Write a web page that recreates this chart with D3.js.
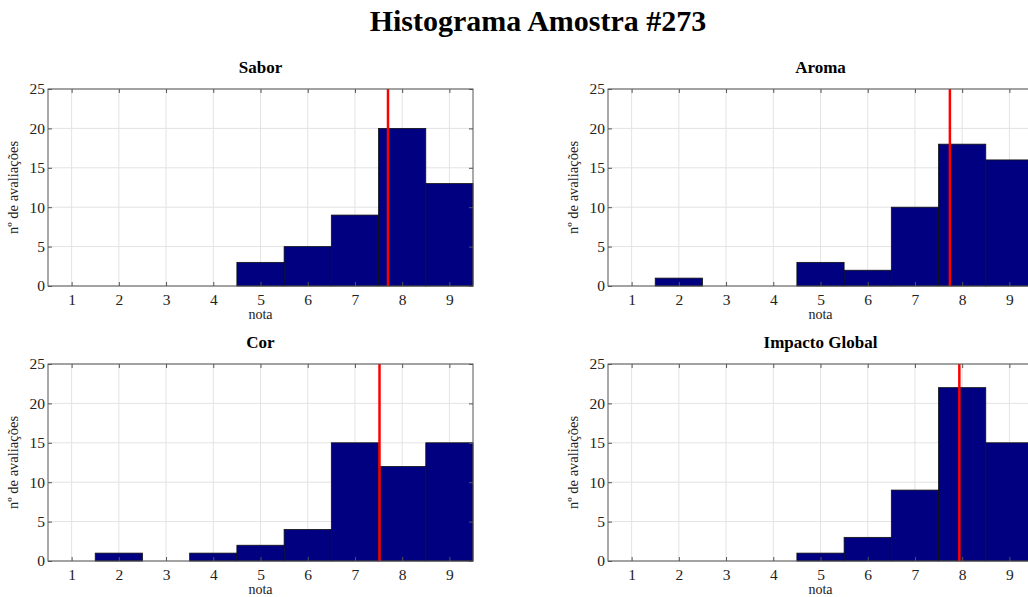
<!DOCTYPE html>
<html>
<head>
<meta charset="utf-8">
<script src="https://cdn.jsdelivr.net/npm/d3@7"></script>
<style>
  body { margin: 0; background: #fff; overflow: hidden; }
  svg text { font-family: "Liberation Serif", "DejaVu Serif", serif; fill: #222; }
</style>
</head>
<body>
<svg id="chart" width="1028" height="597"></svg>
<script>
// Data
const notas = [1, 2, 3, 4, 5, 6, 7, 8, 9];
const titles = ['Sabor', 'Aroma', 'Cor', 'Impacto Global'];
const sabor = [0, 0, 0, 0, 3, 5, 9, 20, 13];
const aroma = [0, 1, 0, 0, 3, 2, 10, 18, 16];
const cor = [0, 1, 0, 1, 2, 4, 15, 12, 15];
const impacto = [0, 0, 0, 0, 1, 3, 9, 22, 15];
const medias = [7.7, 7.74, 7.52, 7.94];
const yTicks = [0, 5, 10, 15, 20, 25];

const series = [sabor, aroma, cor, impacto];

const svg = d3.select('#chart');

svg.append('text')
  .attr('x', 538).attr('y', 31)
  .attr('text-anchor', 'middle')
  .style('font-size', '30px').style('font-weight', 'bold').style('fill', '#000')
  .text('Histograma Amostra #273');

// panel boxes (left, top) of each axes
const panels = [
  { x: 48, y: 89 }, { x: 608, y: 89 },
  { x: 48, y: 364 }, { x: 608, y: 364 }
];
const pw = 425, ph = 197;

panels.forEach((p, i) => {
  const g = svg.append('g').attr('transform', `translate(${p.x},${p.y})`);
  const x = d3.scaleLinear().domain([0.5, 9.5]).range([0, pw]);
  const y = d3.scaleLinear().domain([0, 25]).range([ph, 0]);

  g.append('rect').attr('width', pw).attr('height', ph).attr('fill', '#fff');

  // grid
  g.append('g').selectAll('line.gx').data(notas).join('line')
    .attr('x1', d => x(d)).attr('x2', d => x(d)).attr('y1', 0).attr('y2', ph)
    .attr('stroke', '#e3e3e3').attr('stroke-width', 1);
  g.append('g').selectAll('line.gy').data(yTicks).join('line')
    .attr('y1', d => y(d)).attr('y2', d => y(d)).attr('x1', 0).attr('x2', pw)
    .attr('stroke', '#e3e3e3').attr('stroke-width', 1);

  // bars
  g.append('g').selectAll('rect').data(series[i].map((v, j) => ({ n: notas[j], v }))).join('rect')
    .attr('x', d => x(d.n - 0.5)).attr('width', x(1.5) - x(0.5))
    .attr('y', d => y(d.v)).attr('height', d => ph - y(d.v))
    .attr('fill', '#000080').attr('stroke', '#111').attr('stroke-width', 0.8);

  // mean line
  g.append('line')
    .attr('x1', x(medias[i])).attr('x2', x(medias[i])).attr('y1', 0).attr('y2', ph)
    .attr('stroke', '#ff0000').attr('stroke-width', 2.5);

  // box + inward ticks
  g.append('rect').attr('width', pw).attr('height', ph)
    .attr('fill', 'none').attr('stroke', '#555').attr('stroke-width', 1);

  const xb = d3.axisBottom(x).tickValues(notas).tickSizeInner(-4).tickSizeOuter(0).tickPadding(8);
  const xt = d3.axisTop(x).tickValues(notas).tickSizeInner(-4).tickSizeOuter(0).tickFormat('');
  const yl = d3.axisLeft(y).tickValues(yTicks).tickSizeInner(-4).tickSizeOuter(0).tickPadding(3);
  const yr = d3.axisRight(y).tickValues(yTicks).tickSizeInner(-4).tickSizeOuter(0).tickFormat('');

  [g.append('g').attr('transform', `translate(0,${ph})`).call(xb),
   g.append('g').call(xt),
   g.append('g').call(yl),
   g.append('g').attr('transform', `translate(${pw},0)`).call(yr)
  ].forEach(a => {
    a.select('.domain').remove();
    a.selectAll('line').attr('stroke', '#555');
    a.selectAll('text').style('font-size', '15.5px').style('font-family', '"Liberation Serif", serif').attr('fill', '#222');
  });

  g.append('text')
    .attr('x', pw / 2).attr('y', -16)
    .attr('text-anchor', 'middle')
    .style('font-size', '17px').style('font-weight', 'bold').style('fill', '#000')
    .text(titles[i]);

  g.append('text')
    .attr('x', pw / 2).attr('y', ph + 33)
    .attr('text-anchor', 'middle')
    .style('font-size', '14px')
    .text('nota');

  g.append('text')
    .attr('transform', `translate(${-30},${ph / 2}) rotate(-90)`)
    .attr('text-anchor', 'middle')
    .style('font-size', '14.5px')
    .text('nº de avaliações');
});
</script>
</body>
</html>
